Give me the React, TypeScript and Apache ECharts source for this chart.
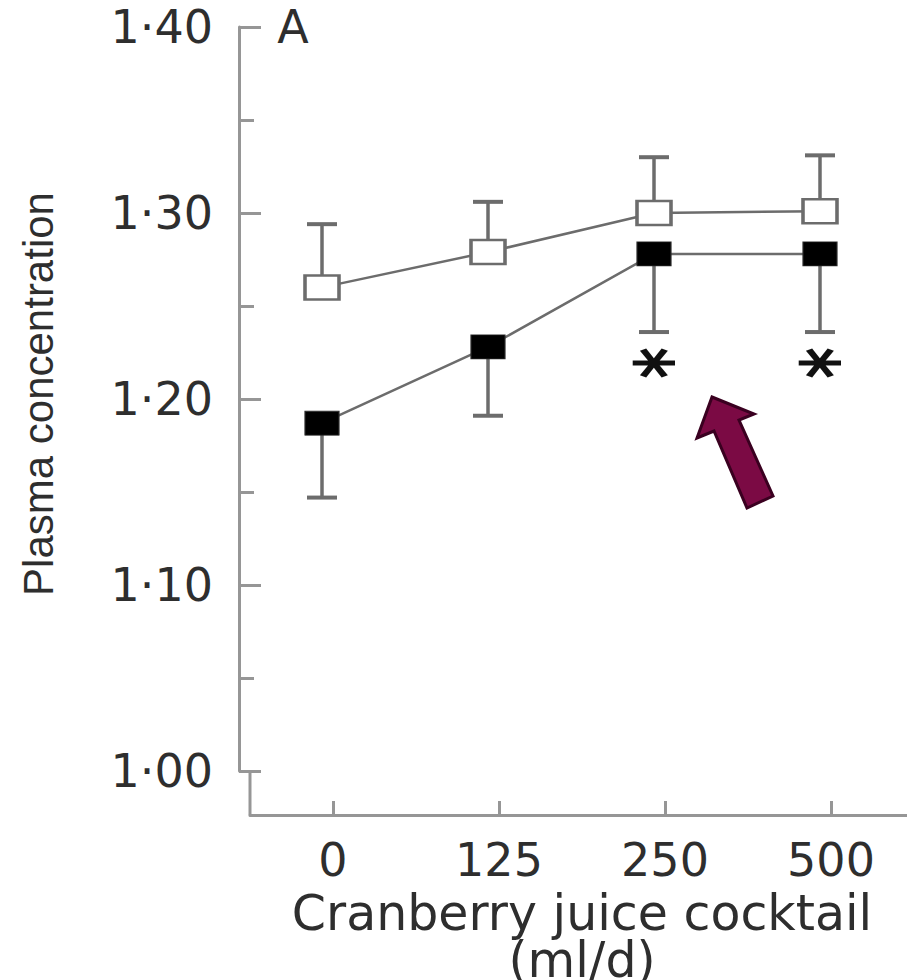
import React, { useEffect, useRef } from "react";
import * as echarts from "echarts";

const xCategories = ["0", "125", "250", "500"];
const openMeans = [1.26, 1.279, 1.3, 1.301];
const openSE = [0.034, 0.027, 0.03, 0.03];
const filledMeans = [1.187, 1.228, 1.278, 1.278];
const filledSE = [0.04, 0.037, 0.042, 0.042];
const significance = ["", "", "*", "*"];
const yTickLabels = ["1·00", "1·10", "1·20", "1·30", "1·40"];
const xAxisTitle = "Cranberry juice cocktail\n(ml/d)";
const yAxisTitle = "Plasma concentration";
const panelLabel = "A";

const AXIS = "#969696";
const TEXT = "#2e2e2e";
const MARK = "#6c6c6c";
const FONT = "DejaVu Sans";

function errorRender(withSig: boolean) {
  return (params: any, api: any) => {
    const idx = api.value(0);
    const mean = api.value(1);
    const end = api.value(2);
    const p0 = api.coord([idx, mean]);
    const p1 = api.coord([idx, end]);
    const half = 15;
    const children: any[] = [
      {
        type: "line",
        shape: { x1: p0[0], y1: p0[1], x2: p1[0], y2: p1[1] },
        style: { stroke: MARK, lineWidth: 3.5 },
      },
      {
        type: "line",
        shape: { x1: p1[0] - half, y1: p1[1], x2: p1[0] + half, y2: p1[1] },
        style: { stroke: MARK, lineWidth: 4 },
      },
    ];
    if (withSig && significance[params.dataIndex]) {
      children.push({
        type: "text",
        x: p1[0] + 15,
        y: p1[1] + 31,
        rotation: Math.PI / 2,
        scaleX: 1,
        scaleY: 1.5,
        style: {
          text: significance[params.dataIndex],
          font: `bold 60px "${FONT}"`,
          fill: "#111",
          align: "center",
          verticalAlign: "middle",
          textAlign: "center",
          textVerticalAlign: "middle",
        },
      });
    }
    return { type: "group", children };
  };
}

export default function App() {
  const ref = useRef<HTMLDivElement>(null);
  useEffect(() => {
    if (!ref.current) return;
    const chart = echarts.init(ref.current, undefined, { renderer: "svg" });
    const openErr = openMeans.map((m, i) => [i, m, m + openSE[i]]);
    const filledErr = filledMeans.map((m, i) => [i, m, m - filledSE[i]]);
    const option: any = {
      animation: false,
      backgroundColor: "#ffffff",
      grid: [
        { left: 239, top: 27, width: 664, height: 744, outerBoundsMode: "none", containLabel: false },
        { left: 250, top: 27, width: 664, height: 744, outerBoundsMode: "none", containLabel: false },
      ],
      xAxis: [
        { type: "category", gridIndex: 0, data: xCategories, show: false },
        {
          type: "category",
          gridIndex: 1,
          data: xCategories,
          position: "bottom",
          offset: 44,
          axisLine: { show: true, onZero: false, lineStyle: { color: AXIS, width: 3 } },
          axisTick: {
            show: true,
            alignWithLabel: true,
            inside: true,
            length: 14,
            lineStyle: { color: AXIS, width: 3 },
          },
          axisLabel: { margin: 22, fontSize: 46, fontFamily: FONT, color: TEXT },
          splitLine: { show: false },
          name: xAxisTitle,
          nameLocation: "middle",
          nameGap: 75,
          nameTextStyle: { fontSize: 49, lineHeight: 47, fontFamily: FONT, color: TEXT },
        },
      ],
      yAxis: [
        {
          type: "value",
          gridIndex: 0,
          min: 1,
          max: 1.4,
          interval: 0.1,
          axisLine: { show: true, lineStyle: { color: AXIS, width: 3 } },
          axisTick: { show: true, inside: true, length: 22, lineStyle: { color: AXIS, width: 3 } },
          minorTick: { show: true, splitNumber: 2, length: 15, lineStyle: { color: AXIS, width: 3 } },
          splitLine: { show: false },
          minorSplitLine: { show: false },
          axisLabel: {
            margin: 26,
            fontSize: 46,
            fontFamily: FONT,
            color: TEXT,
            formatter: (_v: number, i: number) => yTickLabels[i],
          },
        },
        { type: "value", gridIndex: 1, min: 0, max: 1, show: false },
      ],
      series: [
        {
          type: "custom",
          xAxisIndex: 0,
          yAxisIndex: 0,
          z: 1,
          data: openErr,
          encode: { x: 0, y: [1, 2] },
          renderItem: errorRender(false),
        },
        {
          type: "custom",
          xAxisIndex: 0,
          yAxisIndex: 0,
          z: 1,
          data: filledErr,
          encode: { x: 0, y: [1, 2] },
          renderItem: errorRender(true),
        },
        {
          type: "line",
          xAxisIndex: 0,
          yAxisIndex: 0,
          z: 3,
          data: openMeans,
          symbol: "rect",
          symbolSize: [34, 24],
          lineStyle: { color: MARK, width: 2.5 },
          itemStyle: { color: "#ffffff", borderColor: MARK, borderWidth: 3 },
        },
        {
          type: "line",
          xAxisIndex: 0,
          yAxisIndex: 0,
          z: 3,
          data: filledMeans,
          symbol: "rect",
          symbolSize: [34, 24],
          lineStyle: { color: MARK, width: 2.5 },
          itemStyle: { color: "#000000", borderColor: "#2a2a2a", borderWidth: 1 },
        },
      ],
      graphic: [
        {
          type: "line",
          shape: { x1: 250, y1: 770, x2: 250, y2: 815 },
          style: { stroke: AXIS, lineWidth: 3 },
        },
        {
          type: "text",
          x: 293,
          y: 27,
          style: {
            text: panelLabel,
            font: `46px "${FONT}"`,
            fill: TEXT,
            align: "center",
            verticalAlign: "middle",
            textAlign: "center",
            textVerticalAlign: "middle",
          },
        },
        {
          type: "text",
          x: 38,
          y: 394,
          rotation: Math.PI / 2,
          style: {
            text: yAxisTitle,
            font: `42px "Liberation Sans"`,
            fill: TEXT,
            align: "center",
            verticalAlign: "middle",
            textAlign: "center",
            textVerticalAlign: "middle",
          },
        },
        {
          type: "polygon",
          shape: {
            points: [
              [712, 397],
              [754, 414],
              [739, 420],
              [773, 496],
              [747, 508],
              [714, 431],
              [697, 438],
            ],
          },
          style: { fill: "#7b0a44", stroke: "#3a0020", lineWidth: 3 },
        },
      ],
    };
    chart.setOption(option);
    return () => chart.dispose();
  }, []);
  return (
    <div
      ref={ref}
      style={{ position: "absolute", left: 0, top: 0, width: 907, height: 980 }}
    />
  );
}
